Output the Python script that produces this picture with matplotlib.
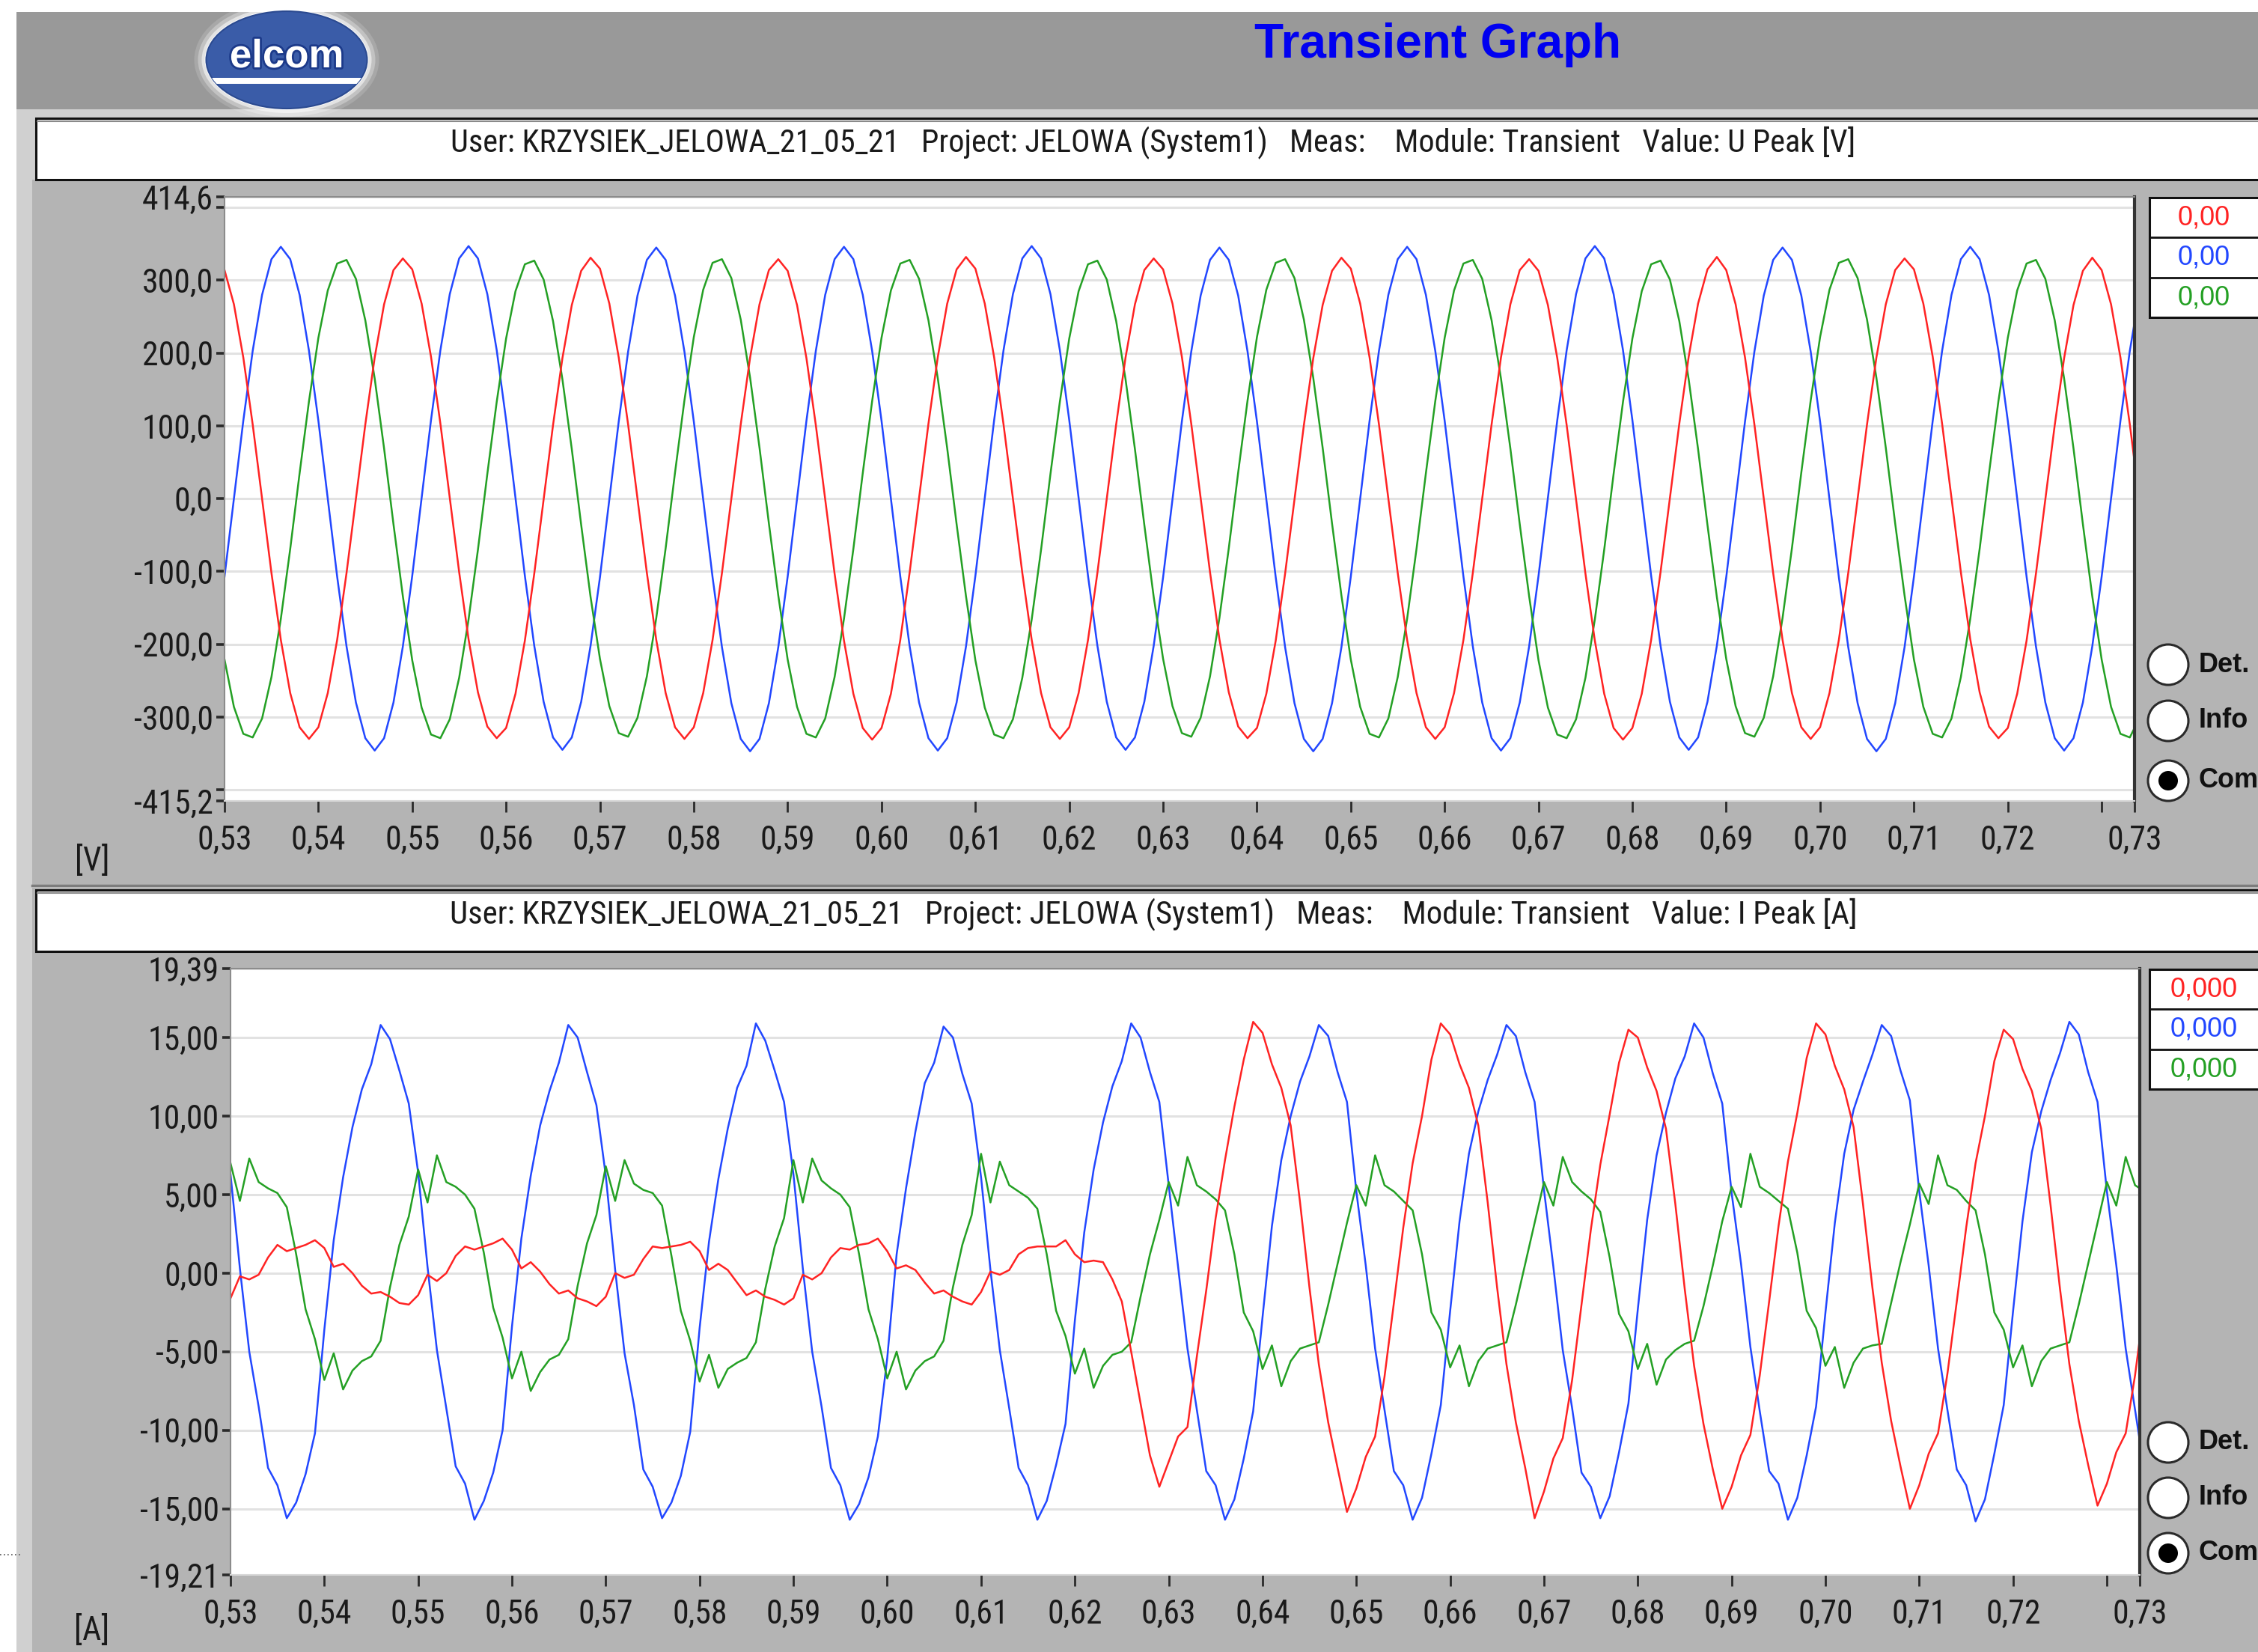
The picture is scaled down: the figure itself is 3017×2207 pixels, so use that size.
import numpy as np
import matplotlib.pyplot as plt
import matplotlib.patheffects as pe
from matplotlib import font_manager
from matplotlib.font_manager import FontProperties
from matplotlib.patches import Rectangle, Ellipse, Circle

# -------------------- DATA --------------------
# recorder sample clock: first sample at 0,530 s, one sample every 1 ms
t_first = 0.530
t_step = 0.001

# phase voltages U peak [V]
u_red = [
    314, 267, 194, 102, 0, -102, -194, -267, -314, -330, -314, -267, -194, -102, 0, 102, 194, 267, 314, 330,
    315, 268, 195, 103, 1, -101, -193, -266, -313, -329, -315, -268, -195, -103, -1, 101, 193, 266, 313, 331,
    316, 268, 194, 102, 0, -102, -194, -267, -314, -330, -314, -267, -194, -102, 0, 102, 194, 267, 314, 329,
    313, 266, 193, 101, -1, -103, -195, -268, -315, -331, -315, -268, -194, -101, 1, 103, 195, 268, 315, 332,
    316, 268, 194, 102, 0, -102, -194, -267, -314, -330, -314, -267, -194, -102, 0, 102, 194, 267, 314, 330,
    315, 268, 195, 103, 1, -101, -193, -266, -313, -329, -315, -268, -195, -103, -1, 101, 193, 266, 313, 331,
    316, 268, 194, 102, 0, -102, -194, -267, -314, -330, -314, -267, -194, -102, 0, 102, 194, 267, 314, 329,
    313, 266, 193, 101, -1, -103, -195, -268, -315, -331, -315, -268, -194, -101, 1, 103, 195, 268, 315, 332,
    314, 267, 194, 102, 0, -102, -194, -267, -314, -330, -314, -267, -194, -102, 0, 102, 194, 267, 314, 330,
    315, 268, 195, 103, 1, -101, -193, -266, -313, -329, -315, -268, -195, -103, -1, 101, 193, 266, 313, 331,
    314, 267, 194, 102, 0,
]
u_blue = [
    -107, 0, 107, 203, 280, 329, 346, 329, 280, 203, 107, 0, -107, -203, -280, -329, -346, -329, -280, -203,
    -106, 1, 108, 204, 281, 330, 347, 330, 281, 204, 108, 1, -106, -202, -279, -328, -345, -328, -279, -202,
    -108, -1, 106, 202, 279, 328, 345, 328, 279, 202, 106, -1, -108, -204, -281, -330, -347, -330, -281, -204,
    -107, 0, 107, 203, 280, 329, 346, 329, 280, 203, 107, 0, -107, -203, -280, -329, -346, -329, -280, -203,
    -106, 1, 108, 204, 281, 330, 347, 330, 281, 204, 108, 1, -106, -202, -279, -328, -345, -328, -279, -202,
    -108, -1, 106, 202, 279, 328, 345, 328, 279, 202, 106, -1, -108, -204, -281, -330, -347, -330, -281, -204,
    -107, 0, 107, 203, 280, 329, 346, 329, 280, 203, 107, 0, -107, -203, -280, -329, -346, -329, -280, -203,
    -106, 1, 108, 204, 281, 330, 347, 330, 281, 204, 108, 1, -106, -202, -279, -328, -345, -328, -279, -202,
    -108, -1, 106, 202, 279, 328, 345, 328, 279, 202, 106, -1, -108, -204, -281, -330, -347, -330, -281, -204,
    -107, 0, 107, 203, 280, 329, 346, 329, 280, 203, 107, 0, -107, -203, -280, -329, -346, -329, -280, -203,
    -107, 0, 107, 203, 280,
]
u_green = [
    -221, -286, -323, -328, -302, -245, -165, -69, 35, 134, 221, 286, 323, 328, 302, 245, 165, 69, -35, -134,
    -222, -287, -324, -329, -303, -246, -166, -70, 34, 133, 220, 285, 322, 327, 301, 244, 164, 68, -36, -135,
    -220, -285, -322, -327, -301, -244, -164, -68, 36, 135, 222, 287, 324, 329, 303, 246, 166, 70, -34, -133,
    -221, -286, -323, -328, -302, -245, -165, -69, 35, 134, 221, 286, 323, 328, 302, 245, 165, 69, -35, -134,
    -222, -287, -324, -329, -303, -246, -166, -70, 34, 133, 220, 285, 322, 327, 301, 244, 164, 68, -36, -135,
    -220, -285, -322, -327, -301, -244, -164, -68, 36, 135, 222, 287, 324, 329, 303, 246, 166, 70, -34, -133,
    -221, -286, -323, -328, -302, -245, -165, -69, 35, 134, 221, 286, 323, 328, 302, 245, 165, 69, -35, -134,
    -222, -287, -324, -329, -303, -246, -166, -70, 34, 133, 220, 285, 322, 327, 301, 244, 164, 68, -36, -135,
    -220, -285, -322, -327, -301, -244, -164, -68, 36, 135, 222, 287, 324, 329, 303, 246, 166, 70, -34, -133,
    -221, -286, -323, -328, -302, -245, -165, -69, 35, 134, 221, 286, 323, 328, 302, 245, 165, 69, -35, -134,
    -221, -286, -323, -328, -302,
]

# phase currents I peak [A]
i_red = [
    -1.6, -0.2, -0.4, -0.1, 1.0, 1.8, 1.4, 1.6, 1.8, 2.1, 1.6, 0.4, 0.6, 0.0, -0.8, -1.3, -1.2, -1.5, -1.9, -2.0,
    -1.4, -0.1, -0.5, 0.0, 1.1, 1.7, 1.5, 1.7, 1.9, 2.2, 1.5, 0.3, 0.7, 0.1, -0.7, -1.3, -1.1, -1.6, -1.8, -2.1,
    -1.5, 0.0, -0.3, -0.1, 0.9, 1.7, 1.6, 1.7, 1.8, 2.0, 1.4, 0.2, 0.6, 0.2, -0.6, -1.4, -1.1, -1.5, -1.7, -2.0,
    -1.6, -0.1, -0.4, 0.0, 1.0, 1.6, 1.5, 1.8, 1.9, 2.2, 1.4, 0.3, 0.5, 0.2, -0.6, -1.3, -1.1, -1.5, -1.8, -2.0,
    -1.2, 0.1, -0.1, 0.2, 1.2, 1.6, 1.7, 1.7, 1.7, 2.1, 1.2, 0.7, 0.8, 0.7, -0.4, -1.8, -5.0, -8.3, -11.6, -13.6,
    -12.0, -10.4, -9.8, -5.3, -1.1, 3.5, 7.2, 10.6, 13.6, 16.0, 15.3, 13.3, 11.8, 9.4, 4.5, -0.9, -5.8, -9.5, -12.4, -15.2,
    -13.7, -11.7, -10.4, -6.6, -1.9, 2.9, 7.0, 10.0, 13.6, 15.9, 15.2, 13.3, 11.8, 9.4, 4.5, -0.9, -5.8, -9.5, -12.4, -15.6,
    -13.9, -11.8, -10.5, -6.8, -2.0, 2.8, 6.9, 10.1, 13.4, 15.5, 15.0, 13.1, 11.6, 9.2, 4.4, -1.0, -5.9, -9.6, -12.5, -15.0,
    -13.6, -11.6, -10.3, -6.5, -1.8, 3.0, 7.1, 10.2, 13.7, 15.9, 15.2, 13.2, 11.7, 9.3, 4.4, -0.9, -5.7, -9.4, -12.3, -15.0,
    -13.5, -11.5, -10.2, -6.4, -1.8, 2.9, 7.0, 10.0, 13.5, 15.5, 14.9, 13.0, 11.6, 9.2, 4.3, -1.0, -5.8, -9.4, -12.2, -14.8,
    -13.4, -11.4, -10.2, -6.5, -1.9,
]
i_blue = [
    6.3, 0.3, -5.0, -8.5, -12.4, -13.5, -15.6, -14.6, -12.8, -10.2, -3.6, 2.1, 6.1, 9.3, 11.7, 13.3, 15.8, 14.9, 12.9, 10.8,
    6.4, 0.4, -4.9, -8.6, -12.3, -13.4, -15.7, -14.5, -12.7, -10.0, -3.4, 2.2, 6.2, 9.4, 11.6, 13.4, 15.8, 15.0, 12.8, 10.7,
    6.2, 0.2, -5.1, -8.4, -12.5, -13.6, -15.6, -14.6, -12.9, -10.1, -3.5, 2.0, 6.0, 9.2, 11.8, 13.2, 15.9, 14.8, 12.9, 10.9,
    6.3, 0.3, -5.0, -8.5, -12.4, -13.5, -15.7, -14.7, -13.0, -10.4, -5.4, 1.2, 5.4, 9.0, 12.1, 13.4, 15.7, 15.0, 12.7, 10.8,
    6.1, 0.2, -4.9, -8.6, -12.4, -13.5, -15.7, -14.5, -12.2, -9.6, -3.0, 2.6, 6.6, 9.6, 11.9, 13.5, 15.9, 15.0, 12.8, 10.9,
    5.6, 0.4, -4.8, -8.7, -12.6, -13.5, -15.7, -14.4, -11.8, -8.8, -2.8, 3.0, 7.2, 10.0, 12.2, 13.8, 15.8, 15.1, 12.8, 10.9,
    5.2, 0.5, -4.8, -8.7, -12.6, -13.5, -15.7, -14.3, -11.5, -8.4, -2.4, 3.3, 7.6, 10.3, 12.3, 13.9, 15.8, 15.1, 12.8, 10.9,
    5.3, 0.4, -4.9, -8.6, -12.7, -13.6, -15.6, -14.2, -11.4, -8.3, -2.3, 3.4, 7.5, 10.2, 12.4, 13.8, 15.9, 15.0, 12.7, 10.8,
    5.1, 0.6, -4.7, -8.8, -12.6, -13.4, -15.7, -14.3, -11.6, -8.5, -2.5, 3.2, 7.6, 10.4, 12.2, 13.9, 15.8, 15.1, 12.9, 11.0,
    5.2, 0.5, -4.8, -8.7, -12.5, -13.5, -15.8, -14.4, -11.5, -8.4, -2.4, 3.3, 7.7, 10.3, 12.3, 14.0, 16.0, 15.2, 12.8, 10.9,
    5.2, 0.5, -4.8, -8.7, -12.6,
]
i_green = [
    7.0, 4.6, 7.3, 5.8, 5.4, 5.1, 4.2, 1.2, -2.3, -4.2, -6.8, -5.1, -7.4, -6.2, -5.6, -5.3, -4.3, -0.9, 1.8, 3.6,
    6.6, 4.5, 7.5, 5.8, 5.5, 5.0, 4.1, 1.3, -2.2, -4.1, -6.7, -5.0, -7.5, -6.3, -5.5, -5.2, -4.2, -0.8, 1.9, 3.7,
    6.8, 4.6, 7.2, 5.7, 5.3, 5.1, 4.3, 1.1, -2.4, -4.3, -6.9, -5.2, -7.3, -6.1, -5.7, -5.4, -4.4, -1.0, 1.7, 3.5,
    7.2, 4.5, 7.3, 5.9, 5.4, 5.0, 4.2, 1.2, -2.3, -4.2, -6.7, -5.0, -7.4, -6.2, -5.6, -5.3, -4.3, -0.9, 1.8, 3.7,
    7.6, 4.5, 7.1, 5.6, 5.2, 4.8, 4.1, 1.2, -2.4, -4.0, -6.4, -4.8, -7.3, -5.9, -5.2, -5.0, -4.4, -1.5, 1.2, 3.4,
    5.8, 4.3, 7.4, 5.6, 5.2, 4.7, 4.0, 1.2, -2.5, -3.7, -6.1, -4.6, -7.2, -5.6, -4.8, -4.6, -4.4, -2.0, 0.6, 3.2,
    5.6, 4.3, 7.5, 5.6, 5.2, 4.6, 4.0, 1.2, -2.5, -3.6, -6.0, -4.6, -7.2, -5.6, -4.8, -4.6, -4.4, -2.0, 0.6, 3.2,
    5.8, 4.3, 7.4, 5.8, 5.2, 4.7, 3.9, 1.0, -2.6, -3.7, -6.1, -4.5, -7.1, -5.5, -4.9, -4.5, -4.3, -2.1, 0.5, 3.3,
    5.5, 4.2, 7.6, 5.5, 5.1, 4.6, 4.1, 1.3, -2.4, -3.5, -5.9, -4.7, -7.3, -5.7, -4.8, -4.6, -4.5, -1.9, 0.7, 3.1,
    5.7, 4.4, 7.5, 5.6, 5.3, 4.6, 4.0, 1.2, -2.5, -3.6, -6.0, -4.6, -7.2, -5.6, -4.8, -4.6, -4.4, -2.0, 0.6, 3.2,
    5.8, 4.3, 7.4, 5.6, 5.2,
]

# axis scales as shown by the program
x_range = [0.53, 0.7335]
x_ticks = [0.53, 0.54, 0.55, 0.56, 0.57, 0.58, 0.59, 0.60, 0.61, 0.62, 0.63,
           0.64, 0.65, 0.66, 0.67, 0.68, 0.69, 0.70, 0.71, 0.72, 0.73, 0.7335]
x_tick_labels = ['0,53', '0,54', '0,55', '0,56', '0,57', '0,58', '0,59', '0,60', '0,61', '0,62', '0,63',
                 '0,64', '0,65', '0,66', '0,67', '0,68', '0,69', '0,70', '0,71', '0,72', '', '0,73']
u_range = [-415.2, 414.6]
u_ticks = [-415.2, -400, -300, -200, -100, 0, 100, 200, 300, 400, 414.6]
u_tick_labels = ['-415,2', '', '-300,0', '-200,0', '-100,0', '0,0', '100,0', '200,0', '300,0', '', '414,6']
i_range = [-19.21, 19.39]
i_ticks = [-19.21, -15, -10, -5, 0, 5, 10, 15, 19.39]
i_tick_labels = ['-19,21', '-15,00', '-10,00', '-5,00', '0,00', '5,00', '10,00', '15,00', '19,39']

title = 'Transient Graph'
header_u = 'User: KRZYSIEK_JELOWA_21_05_21   Project: JELOWA (System1)   Meas:    Module: Transient   Value: U Peak [V]'
header_i = 'User: KRZYSIEK_JELOWA_21_05_21   Project: JELOWA (System1)   Meas:    Module: Transient   Value: I Peak [A]'
cursor_u = ['0,00', '0,00', '0,00']
cursor_i = ['0,000', '0,000', '0,000']
view_modes = ['Det.', 'Info', 'Com']

# -------------------- STYLE --------------------
RED, BLUE, GREEN = '#ff2323', '#2247ff', '#24a024'
names = {f.name for f in font_manager.fontManager.ttflist}
SANS = 'Liberation Sans' if 'Liberation Sans' in names else 'DejaVu Sans'


def narrow_font():
    # a condensed face looks closest to the program's narrow UI font
    prefs = ['Liberation Sans Narrow', 'Arial Narrow', 'DejaVu Sans Condensed', 'Noto Sans Condensed',
             'Noto Sans SemiCondensed', 'Open Sans Condensed', 'Roboto Condensed']
    regular = [f for f in font_manager.fontManager.ttflist
               if f.style == 'normal' and f.weight in (400, 'normal', 'regular', 'book')]
    for p in prefs:
        for f in regular:
            if f.name == p:
                return f.fname
    for f in regular:
        if f.stretch in ('condensed', 'semi-condensed') and f.name.split()[0] in ('DejaVu', 'Noto', 'Liberation', 'Open', 'Roboto'):
            return f.fname
    return None


NARROW_FILE = narrow_font()


def narrow(size):
    if NARROW_FILE:
        return FontProperties(fname=NARROW_FILE, size=size)
    return FontProperties(family=SANS, size=size)


W, H = 3017, 2207
fig = plt.figure(figsize=(W / 100, H / 100), dpi=100, facecolor='white')

# background canvas in pixel units (window chrome)
bg = fig.add_axes([0, 0, 1, 1])
bg.set_xlim(0, W)
bg.set_ylim(H, 0)
bg.axis('off')

bg.add_patch(Rectangle((22, 16), W, 130, fc='#999999', ec='none'))
bg.add_patch(Rectangle((22, 146), W, H, fc='#d0d0d0', ec='none'))
bg.add_patch(Rectangle((43, 240), W, 942, fc='#b4b4b4', ec='none'))
bg.add_patch(Rectangle((43, 1186), W, H, fc='#b4b4b4', ec='none'))
bg.plot([43, W], [1183, 1183], color='#7c7c7c', lw=2.5)
bg.plot([0, 30], [2077, 2077], ls=(0, (1, 2)), color='#555555', lw=1.2)

# logo
for g, a in [(16, 0.15), (11, 0.3), (6, 0.55), (2, 0.9)]:
    bg.add_patch(Ellipse((383, 80), 215 + 2 * g, 130 + 2 * g, fc='white', ec='none', alpha=a))
logo = Ellipse((383, 80), 215, 130, fc='#3a5ca8', ec='#2b4a90', lw=1.5)
bg.add_patch(logo)
stripe = Rectangle((260, 104), 260, 8, fc='white', ec='none')
bg.add_patch(stripe)
stripe.set_clip_path(logo)
bg.text(383, 76, 'elcom', color='white', fontsize=38, fontweight='bold', family=SANS,
        ha='center', va='center', path_effects=[pe.withStroke(linewidth=4, foreground='#1c3a8a')])

bg.text(1921, 77, title, color='#0000f0', fontsize=46, fontweight='bold', family=SANS,
        ha='center', va='baseline')

# header boxes; text is fitted to the width it has in the program window
headers = []
for y0, y1, txt in [(158, 240, header_u), (1189, 1271, header_i)]:
    bg.add_patch(Rectangle((48, y0), W, y1 - y0, fc='white', ec='#111111', lw=2.2))
    bg.plot([50, W], [y0 + 4, y0 + 4], color='#8a8a8a', lw=1.5)
    headers.append(bg.text(1541, (y0 + y1) / 2 - 8, txt, fontproperties=narrow(29), color='#1a1a1a',
                           ha='center', va='center'))

units = [bg.text(123, 1150, '[V]', fontproperties=narrow(33), ha='center', va='center', color='#1a1a1a'),
         bg.text(123, 2178, '[A]', fontproperties=narrow(33), ha='center', va='center', color='#1a1a1a')]


def side_panel(texts, y_box, y_radio):
    x0 = 2872
    bg.add_patch(Rectangle((x0, y_box), 300, 160, fc='white', ec='#111111', lw=2.2))
    for k in (1, 2):
        bg.plot([x0, W], [y_box + 53.3 * k] * 2, color='#111111', lw=2)
    for k, (s, c) in enumerate(zip(texts, [RED, BLUE, GREEN])):
        bg.text(2945, y_box + 27 + 53.3 * k, s, color=c, fontsize=26, family=SANS,
                ha='center', va='center')
    for k, (yy, lab) in enumerate(zip(y_radio, view_modes)):
        bg.add_patch(Circle((2897, yy), 27, fc='white', ec='#2a2a2a', lw=2.2))
        if k == 2:
            bg.add_patch(Circle((2897, yy), 13, fc='black', ec='none'))
        bg.text(2938, yy, lab, fontsize=26, fontweight='bold', family=SANS,
                ha='left', va='center', color='#111111')


side_panel(cursor_u, 264, [888, 963, 1043])
side_panel(cursor_i, 1295, [1927, 2001, 2075])


def panel(x0, y0, x1, y1):
    return fig.add_axes([x0 / W, 1 - y1 / H, (x1 - x0) / W, (y1 - y0) / H])


def style(ax, yr, yt, ylab):
    ax.set_facecolor('white')
    ax.set_xlim(x_range)
    ax.set_ylim(yr)
    ax.set_xticks(x_ticks)
    ax.set_xticklabels(x_tick_labels, color='#1a1a1a')
    ax.set_yticks(yt)
    ax.set_yticklabels(ylab, color='#1a1a1a')
    ax.tick_params(axis='x', direction='out', length=11, width=2, color='#2a2a2a', pad=12)
    ax.tick_params(axis='y', direction='out', length=8, width=2.6, color='#2a2a2a', pad=3)
    ax.grid(axis='y', color='#e2e2e2', lw=2.2)
    ax.set_axisbelow(True)
    ax.spines['left'].set_color('#8c8c8c')
    ax.spines['top'].set_color('#8c8c8c')
    ax.spines['bottom'].set_color('#d8d8d8')
    ax.spines['right'].set_color('#333333')
    ax.spines['right'].set_linewidth(3)
    for s in ('left', 'top', 'bottom'):
        ax.spines[s].set_linewidth(1.5)


t = t_first + t_step * np.arange(len(u_red))

ax_u = panel(300, 263, 2852, 1070)
style(ax_u, u_range, u_ticks, u_tick_labels)
ax_u.plot(t, u_blue, color=BLUE, lw=1.8)
ax_u.plot(t, u_green, color=GREEN, lw=1.8)
ax_u.plot(t, u_red, color=RED, lw=1.8)

ax_i = panel(308, 1294, 2859, 2104)
style(ax_i, i_range, i_ticks, i_tick_labels)
ax_i.plot(t, i_blue, color=BLUE, lw=1.8)
ax_i.plot(t, i_green, color=GREEN, lw=1.8)
ax_i.plot(t, i_red, color=RED, lw=1.8)

# fit the narrow texts to the widths they have in the program window:
# header lines ~1880 px, the tick label "0,53" ~73 px
probe = bg.text(0, 0, '0,53', fontproperties=narrow(31))
fig.canvas.draw()
for h in headers:
    w = h.get_window_extent().width
    h.set_fontsize(h.get_fontsize() * 1880 / w)
tick_size = 31 * 73 / probe.get_window_extent().width
probe.remove()
for ax in (ax_u, ax_i):
    for lab in ax.get_xticklabels() + ax.get_yticklabels():
        lab.set_fontproperties(narrow(tick_size))
for u in units:
    u.set_fontsize(tick_size)

fig.savefig('out.png', dpi=100, facecolor='white')
